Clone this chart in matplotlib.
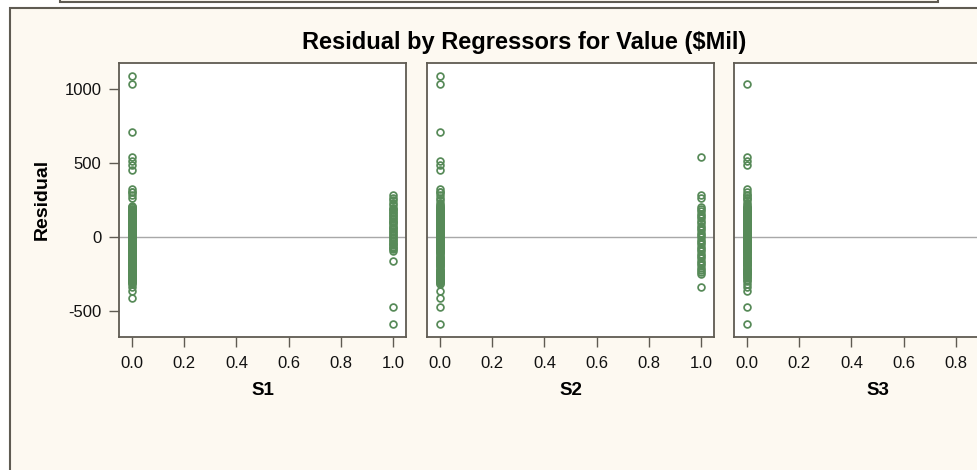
import numpy as np
import matplotlib.pyplot as plt
from matplotlib.patches import Rectangle

plt.rcParams['font.family'] = ['Liberation Sans', 'DejaVu Sans']
plt.rcParams['axes.unicode_minus'] = False

# residuals by region group (1 -> S1, 2 -> S2, 3 -> S3, 0 -> base)
res_s1 = [284, 266, 249, 231, 214, 199, 190, 181, 170, 161, 150, 142, 131, 120,
          112, 101, 92, 83, 71, 62, 53, 41, 33, 22, 12, 3, -8, -17, -26, -37,
          -45, -56, -64, -73, -84, -95, -162, -473, -590]
res_s2 = [543, 288, 266, 205, 190, 174, 157, 141, 126, 109, 93, 78, 61, 46, 29,
          14, -2, -18, -33, -49, -66, -81, -97, -113, -128, -144, -160, -177,
          -192, -207, -222, -238, -252, -338]
res_s3 = [1088, 709, 457, 302, 211, 186, 163, 137, 114, 88, 66, 39, 17, -9,
          -31, -58, -79, -104, -126, -151, -173, -199, -224, -241, -252, -263,
          -275, -286, -296, -305, -312, -414]
res_base = [1036, 513, 486, 327, 308, 201, 193, 178, 168, 153, 145, 133, 124,
            107, 97, 86, 74, 57, 49, 35, 25, 8, -4, -13, -23, -40, -52, -61,
            -71, -89, -93, -108, -118, -135, -139, -155, -166, -184, -188, -203,
            -214, -229, -233, -243, -252, -261, -270, -280, -289, -297, -315,
            -365]

regressors = ['S1', 'S2', 'S3']
title = 'Residual by Regressors for Value ($Mil)'
y_ticks = [-500, 0, 500, 1000]
x_ticks = [0.0, 0.2, 0.4, 0.6, 0.8, 1.0]

residual = np.array(res_s1 + res_s2 + res_s3 + res_base)
group = np.array([1] * len(res_s1) + [2] * len(res_s2) + [3] * len(res_s3) + [0] * len(res_base))

W, H = 977, 470
GREEN = '#578a58'
FRAME = '#5f5b52'
CREAM = '#fdf9f1'

fig = plt.figure(figsize=(W / 100, H / 100), dpi=100)
fig.patch.set_facecolor('white')

# outer panel + the box above it (both cropped in the screenshot)
fig.patches.append(Rectangle((10 / W, -0.1), 1.2, 1.1 - 8 / H, transform=fig.transFigure,
                             facecolor=CREAM, edgecolor=FRAME, lw=1.5, zorder=-10))
fig.patches.append(Rectangle((60 / W, 1 - 1.5 / H), 878 / W, 0.1, transform=fig.transFigure,
                             facecolor=CREAM, edgecolor=FRAME, lw=1.5, zorder=-10))

left_px = [119, 427, 734]
for i, name in enumerate(regressors):
    ax = fig.add_axes([left_px[i] / W, 1 - 337 / H, 287 / W, 274 / H])
    ax.set_facecolor('white')
    xval = (group == i + 1).astype(float)
    ax.axhline(0, color='#a8a8a8', lw=1, zorder=1)
    ax.plot(xval, residual, 'o', mfc='none', mec=GREEN, ms=4.9, mew=1.25, zorder=2)
    ax.set_xlim(-0.05, 1.05)
    ax.set_ylim(-677, 1179)
    ax.set_xticks(x_ticks)
    labels = ['%.1f' % t for t in x_ticks]
    if i == 2:
        labels[-1] = ''  # falls outside the cropped screenshot
    ax.set_xticklabels(labels)
    ax.set_yticks(y_ticks)
    for sp in ax.spines.values():
        sp.set_color(FRAME)
        sp.set_linewidth(1.3)
    ax.tick_params(axis='both', length=7.5, width=1, color=FRAME, labelsize=12,
                   labelcolor='#111111')
    ax.tick_params(axis='x', pad=6)
    ax.tick_params(axis='y', pad=5)
    if i > 0:
        ax.tick_params(axis='y', left=False, labelleft=False)
    ax.set_xlabel(name, fontsize=13.5, fontweight='bold', labelpad=8)

fig.text(42 / W, 1 - 199 / H, 'Residual', rotation=90, ha='center', va='center',
         fontsize=14, fontweight='bold')
fig.text(524 / W, 1 - 42 / H, title, ha='center', va='center', fontsize=17,
         fontweight='bold')

fig.savefig('out.png', dpi=100, facecolor=fig.get_facecolor())
